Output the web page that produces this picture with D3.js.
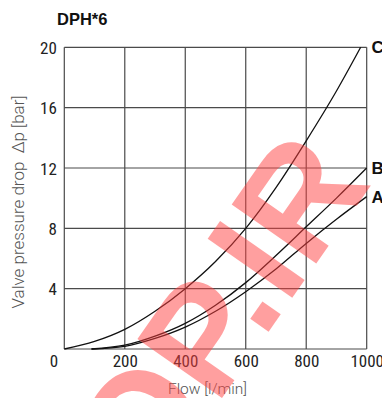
<!DOCTYPE html>
<html>
<head>
<meta charset="utf-8">
<script src="https://cdn.jsdelivr.net/npm/d3@7"></script>
<style>
html,body{margin:0;padding:0;background:#fff;}
svg{display:block;}
</style>
</head>
<body>
<svg id="chart" width="382" height="398"></svg>
<script>
// ---- data ----
const title = "DPH*6";
const xTicks = [0, 200, 400, 600, 800, 1000];
const yTicks = [4, 8, 12, 16, 20];
const xLabel = "Flow [l/min]";
const yLabel = "Valve pressure drop  Δp [bar]";
const seriesNames = ["C", "B", "A"];
const flowC = [0, 100, 200, 300, 400, 500, 600, 700, 800, 900, 980];
const dpC   = [0, 0.5, 1.3, 2.5, 4.0, 5.8, 8.0, 10.7, 13.8, 17.1, 20];
const flowB = [90, 200, 300, 400, 500, 600, 700, 800, 900, 1000];
const dpB   = [0, 0.25, 0.85, 1.7, 2.9, 4.4, 6.2, 8.1, 10.0, 12.0];
const flowA = [90, 200, 300, 400, 500, 600, 700, 800, 900, 1000];
const dpA   = [0, 0.18, 0.7, 1.45, 2.5, 3.8, 5.3, 7.0, 8.6, 10.1];
const watermark = "SHOP.IR";

const series = [
  {name: seriesNames[0], flow: flowC, dp: dpC},
  {name: seriesNames[1], flow: flowB, dp: dpB},
  {name: seriesNames[2], flow: flowA, dp: dpA}
];

const svg = d3.select("#chart");
const x = d3.scaleLinear().domain([0, 1000]).range([64.3, 366.7]);
const y = d3.scaleLinear().domain([0, 20]).range([349, 47.3]);

const tickFont = "'Liberation Sans Narrow','Roboto Condensed','DejaVu Sans Condensed',sans-serif";

// grid
const grid = svg.append("g");
grid.selectAll("line.v").data(xTicks).join("line")
  .attr("x1", d => x(d)).attr("x2", d => x(d))
  .attr("y1", y(20)).attr("y2", y(0))
  .attr("stroke", "#4a4a4a").attr("stroke-width", 1.2);
grid.selectAll("line.h").data([0].concat(yTicks)).join("line")
  .attr("y1", d => y(d)).attr("y2", d => y(d))
  .attr("x1", x(0)).attr("x2", x(1000))
  .attr("stroke", "#4a4a4a").attr("stroke-width", 1.2);

// axes labels
const xAxis = d3.axisBottom(x).tickValues(xTicks).tickFormat(d3.format("d")).tickSize(0).tickPadding(0);
const gx = svg.append("g").attr("transform", `translate(0,${y(0)})`).call(xAxis);
gx.select(".domain").remove();
gx.selectAll("text")
  .attr("y", 18).attr("dy", 0)
  .attr("font-family", tickFont).attr("font-size", 17).attr("fill", "#222")
  .attr("dx", d => d === 0 ? -10.8 : 0);

const yAxis = d3.axisLeft(y).tickValues(yTicks).tickFormat(d3.format("d")).tickSize(0).tickPadding(0);
const gy = svg.append("g").attr("transform", `translate(${x(0)},0)`).call(yAxis);
gy.select(".domain").remove();
gy.selectAll("text")
  .attr("x", -7.5).attr("dy", "0.36em")
  .attr("font-family", tickFont).attr("font-size", 17).attr("fill", "#222");

// curves
const line = d3.line()
  .x(d => x(d[0])).y(d => y(d[1]))
  .curve(d3.curveMonotoneX);
svg.append("g").selectAll("path").data(series).join("path")
  .attr("d", s => line(s.flow.map((f, i) => [f, s.dp[i]])))
  .attr("fill", "none").attr("stroke", "#111").attr("stroke-width", 1.3);

// series labels
svg.append("g").selectAll("text").data(series).join("text")
  .attr("x", 371.5)
  .attr("y", s => y(s.dp[s.dp.length - 1]) + 6 + (s.name === "A" ? 0.5 : 0))
  .attr("font-family", "'Liberation Sans',Arial,sans-serif")
  .attr("font-weight", "bold").attr("font-size", 17).attr("fill", "#111")
  .text(s => s.name);

// title
svg.append("text").attr("x", 57).attr("y", 25)
  .attr("font-family", "'Liberation Sans',Arial,sans-serif")
  .attr("font-weight", "bold").attr("font-size", 16.5).attr("fill", "#111")
  .text(title);

// axis titles
svg.append("text").attr("x", 207.5).attr("y", 394)
  .attr("text-anchor", "middle")
  .attr("font-family", "Roboto,sans-serif").attr("font-weight", 300)
  .attr("font-size", 15.5).attr("fill", "#555")
  .text(xLabel);
svg.append("text")
  .attr("transform", "translate(23.5,202) rotate(-90)")
  .attr("text-anchor", "middle")
  .attr("xml:space", "preserve").style("white-space", "pre")
  .attr("font-family", "Roboto,sans-serif").attr("font-weight", 300)
  .attr("font-size", 17).attr("fill", "#555")
  .text(yLabel);

// watermark
const fs = 150;
const wm = svg.append("g").attr("transform", "translate(266,317) rotate(-55)");
const wt = wm.append("text")
  .attr("font-family", "'Liberation Sans',Arial,sans-serif")
  .attr("font-weight", "bold").attr("font-size", fs)
  .attr("fill", "#ff4040").attr("fill-opacity", 0.5)
  .attr("y", 0.07 * fs)
  .text(watermark);
const dotIdx = watermark.indexOf(".");
const ext = wt.node().getExtentOfChar(dotIdx);
wt.attr("x", -(ext.x + ext.width / 2));
</script>
</body>
</html>
